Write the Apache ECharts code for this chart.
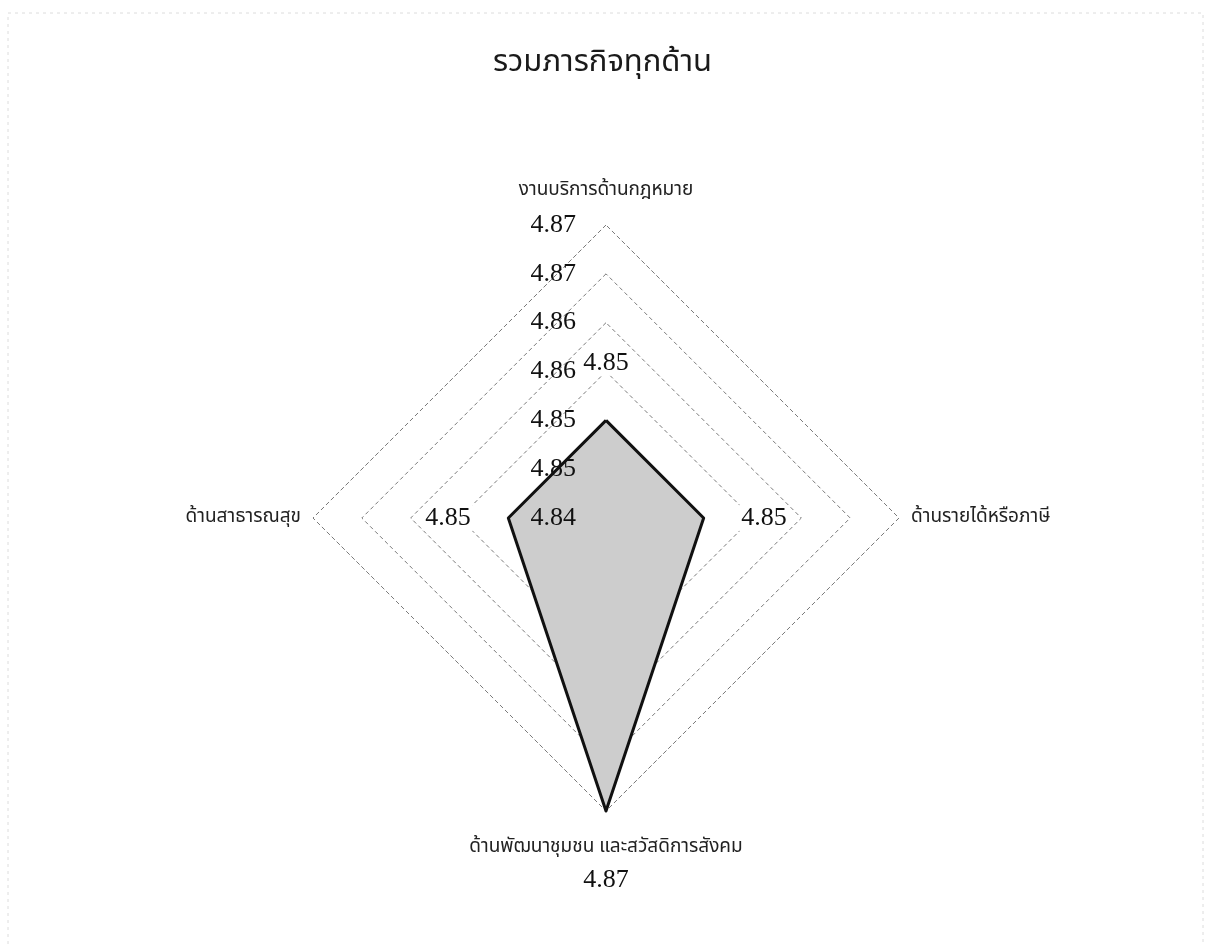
<!DOCTYPE html>
<html>
<head>
<meta charset="utf-8">
<title>รวมภารกิจทุกด้าน</title>
<script src="https://cdn.jsdelivr.net/npm/echarts@6/dist/echarts.min.js"></script>
<style>
  html, body { margin: 0; padding: 0; background: #fff; }
  #chart { width: 1205px; height: 944px; }
</style>
</head>
<body>
<div id="chart"></div>
<script>
// Categories listed in drawing order, counter-clockwise from the top spoke
const categories = [
  'งานบริการด้านกฎหมาย',
  'ด้านสาธารณสุข',
  'ด้านพัฒนาชุมชน และสวัสดิการสังคม',
  'ด้านรายได้หรือภาษี'
];
const scores = [4.85, 4.85, 4.87, 4.85];
const tickLabels = ['4.84', '4.85', '4.85', '4.86', '4.86', '4.87', '4.87'];
const axisMin = 4.84;
const axisMax = 4.87;

const numFont = '"Liberation Serif", "DejaVu Serif", serif';
const thaiFont = '"Noto Sans Thai", "Noto Sans", "DejaVu Sans", sans-serif';

const step = (axisMax - axisMin) / (tickLabels.length - 1);
const center = [606, 518];
const radius = 293;

// Value label placement around each vertex
const labelPlace = [
  { position: 'top', distance: 44 },
  { position: 'left', distance: 35 },
  { position: 'bottom', distance: 56 },
  { position: 'right', distance: 35 }
];

const indicatorsGrid = categories.map(name => ({ name: name, min: axisMin, max: axisMax }));
const indicatorsTicks = categories.map((name, i) => ({
  name: name, min: axisMin, max: axisMax,
  axisLabel: { show: i === 0 }
}));

const chart = echarts.init(document.getElementById('chart'), null, { renderer: 'canvas' });

chart.setOption({
  backgroundColor: '#ffffff',
  animation: false,
  title: {
    text: 'รวมภารกิจทุกด้าน',
    left: 'center',
    top: 44,
    textStyle: { fontFamily: thaiFont, fontSize: 31, fontWeight: 'normal', color: '#1a1a1a' }
  },
  graphic: [{
    type: 'rect',
    silent: true,
    shape: { x: 8, y: 13, width: 1195, height: 940 },
    style: { fill: 'none', stroke: '#dcdcdc', lineWidth: 1, lineDash: [3, 4] },
    z: 0
  }],
  radar: [
    {
      // grid rings and category names
      center: center,
      radius: radius,
      startAngle: 90,
      shape: 'polygon',
      splitNumber: tickLabels.length - 1,
      indicator: indicatorsGrid,
      nameGap: 12,
      axisName: {
        color: '#222',
        fontFamily: thaiFont,
        fontSize: 19,
        formatter: function (name) {
          if (name === categories[0]) return '{v|' + name + '}';
          if (name === categories[2]) return '{w|' + name + '}';
          return name;
        },
        rich: {
          v: { fontFamily: thaiFont, fontSize: 19, color: '#222', padding: [0, 0, 12, 0] },
          w: { fontFamily: thaiFont, fontSize: 19, color: '#222', padding: [16, 0, 0, 0] }
        }
      },
      axisLine: { show: false },
      axisTick: { show: false },
      axisLabel: { show: false },
      splitArea: { show: false },
      splitLine: { lineStyle: { color: '#7a7a7a', width: 1, type: [4, 3] } },
      z: 1
    },
    {
      // tick labels along the top spoke, drawn above the filled area
      center: center,
      radius: radius,
      startAngle: 90,
      shape: 'polygon',
      splitNumber: tickLabels.length - 1,
      indicator: indicatorsTicks,
      axisName: { show: false },
      axisLine: { show: false },
      axisTick: { show: false },
      splitLine: { show: false },
      splitArea: { show: false },
      axisLabel: {
        show: true,
        margin: 30,
        color: '#111',
        fontFamily: numFont,
        fontSize: 26,
        formatter: function (v) {
          return tickLabels[Math.round((v - axisMin) / step)];
        }
      },
      z: 20
    }
  ],
  series: [
    {
      // filled area
      name: 'รวมภารกิจทุกด้าน',
      type: 'radar',
      radarIndex: 0,
      symbol: 'none',
      z: 10,
      lineStyle: { width: 0, opacity: 0 },
      areaStyle: { color: '#cdcdcd', opacity: 1 },
      data: [{ value: scores }]
    },
    {
      // outline
      name: 'เส้นขอบ',
      type: 'radar',
      radarIndex: 0,
      symbol: 'none',
      z: 11,
      lineStyle: { color: '#111', width: 3 },
      data: [{ value: scores }]
    },
    {
      // value labels
      name: 'ค่าเฉลี่ย',
      type: 'radar',
      radarIndex: 0,
      symbol: 'circle',
      symbolSize: 1,
      z: 21,
      itemStyle: { color: 'rgba(0,0,0,0)' },
      lineStyle: { width: 0, opacity: 0 },
      label: {
        show: true,
        formatter: function (p) {
          return p.dataIndex === p.dimensionIndex ? '{n|' + Number(p.value).toFixed(2) + '}' : '';
        },
        rich: {
          n: { fontFamily: numFont, fontSize: 26, color: '#111', backgroundColor: '#fff', padding: [0, 2] }
        }
      },
      data: labelPlace.map(pl => ({
        value: scores,
        label: { position: pl.position, distance: pl.distance }
      }))
    }
  ]
});
</script>
</body>
</html>
